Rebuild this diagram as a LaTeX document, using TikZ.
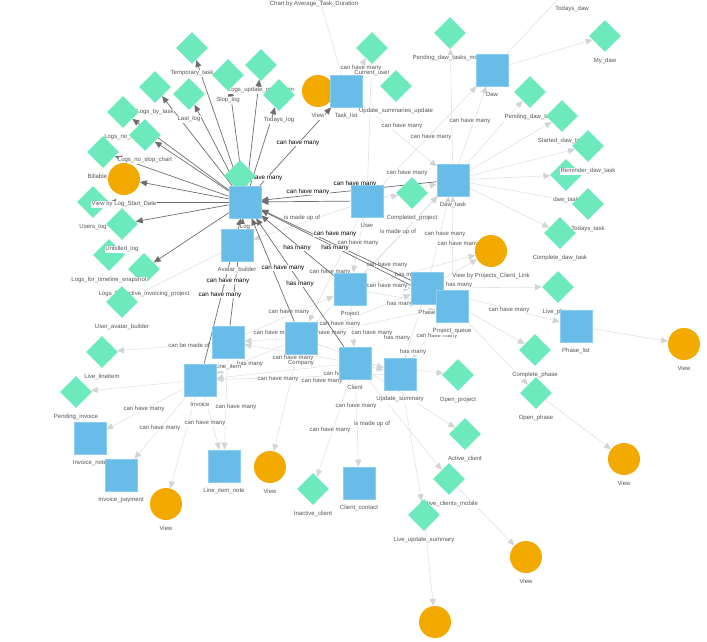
\documentclass[tikz,border=0pt]{standalone}
\usepackage{fontspec}
\setmainfont{Liberation Sans}
\usetikzlibrary{arrows.meta}
\usetikzlibrary{shapes.geometric}
\usetikzlibrary{backgrounds}

\definecolor{sqblue}{RGB}{104,188,232}
\definecolor{dmgreen}{RGB}{109,234,188}
\definecolor{vworange}{RGB}{242,169,0}
\definecolor{ltedge}{RGB}{226,226,226}
\definecolor{lttip}{RGB}{212,212,212}
\definecolor{dkedge}{RGB}{110,110,110}
\definecolor{lbltext}{RGB}{85,85,85}

\tikzset{
  sq/.style={rectangle,fill=sqblue,draw=sqblue!75!white,line width=0.6pt,minimum size=32pt,inner sep=0pt},
  dm/.style={diamond,fill=dmgreen,minimum width=32pt,minimum height=32pt,inner sep=0pt},
  vw/.style={circle,fill=vworange,minimum size=32pt,inner sep=0pt},
  nl/.style={fill=white,inner sep=0.4pt,text=lbltext,text height=4.4pt,text depth=1.4pt,
    font=\fontsize{6}{7}\selectfont,label distance=5.5pt},
  ltline/.style={draw=ltedge,line width=0.6pt,-{Triangle[length=7pt,width=6pt,color=lttip]}},
  dkline/.style={draw=dkedge,line width=0.7pt,-{Triangle[length=7pt,width=6pt]}},
  ltlbl/.style={fill=white,inner sep=0.2pt,text=lbltext,font=\fontsize{6}{7}\selectfont},
  dklbl/.style={fill=white,inner sep=0.2pt,text=black,font=\fontsize{6.3}{7}\selectfont}
}

\begin{document}
\begin{tikzpicture}[x=1pt,y=-1pt]
      \useasboundingbox (0,0) rectangle (707,642);
      \clip (0,0) rectangle (707,642);

      % Diamonds
      \foreach \n/\x/\y/\t in {temptask/192/48/Temporary\_task, logsupd/261/65/Logs\_update\_production,
        sloplog/228/75/Slop\_log, todayslog/279/95/Todays\_log, logsbytask/155/87/Logs\_by\_task,
        lastlog/189/94/Last\_log, logsno/123/112/Logs\_no\_slop, logschart/145/135/Logs\_no\_slop\_chart,
        billable/103/152/Billable\_log, userslog/93/202/Users\_log,
        activeinv/144/269/Logs\_for\_active\_invoicing\_project, timeline/109/255/Logs\_for\_timeline\_snapshot,
        unbilled/122/224/Unbilled\_log, useravatar/122/302/User\_avatar\_builder,
        livelineitem/102/352/Live\_lineitem, pendinv/76/392/Pending\_invoice,
        currentuser/372/48/Current\_user, usumupd/396/86/Update\_summaries\_update,
        pendmobile/450/33/Pending\_daw\_tasks\_mobile, todaysdaw/572/-16/Todays\_daw, mydaw/605/36/My\_daw,
        penddawtask/530/92/Pending\_daw\_task, startdaw/562/116/Started\_daw\_task, xdaw/566/175/daw\_task,
        reminder/588/146/Reminder\_daw\_task, todaystask/588/204/Todays\_task,
        compdawtask/560/233/Complete\_daw\_task, livephase/558/287/Live\_phase,
        compphase/535/350/Complete\_phase, openphase/536/393/Open\_phase,
        compproj/412/193/Completed\_project, openproj/458/375/Open\_project,
        activeclient/465/434/Active\_client, activemobile/449/479/Active\_clients\_mobile,
        liveusum/424/515/Live\_update\_summary, inactive/313/489/Inactive\_client}
      {
        \node[dm,label={[nl]below:\t}] (\n) at (\x,\y) {};
      }
      \node[dm] (logdia) at (240,176) {};

      % Views
      \foreach \n/\x/\y/\t in {vchart/314/-21/Chart by Average\_Task\_Duration, vtask/318/91/View,
        vlog/124/179/View by Log\_Start\_Date, vproj/491/251/View by Projects\_Client\_Link,
        vcomp/270/467/View, vinv/166/504/View, vphase/684/344/View, vopen/624/459/View,
        vlive/526/557/View}
      {
        \node[vw,label={[nl]below:\t}] (\n) at (\x,\y) {};
      }
      \node[vw] (vbot) at (435,622) {};

      % Tables
      \foreach \n/\x/\y/\t in {log/245/202/Log, avatar/237/245/Avatar\_builder, tasklist/346/91/Task\_list,
        daw/492/70/Daw, dawtask/453/180/Daw\_task, user/367/201/User, project/350/289/Project,
        phase/427/288/Phase, pqueue/452/306/Project\_queue, company/301/338/Company,
        client/355/363/Client, usummary/400/374/Update\_summary, lineitem/228/342/Line\_item,
        invoice/200/380/Invoice, invnote/90/438/Invoice\_note, invpay/121/475/Invoice\_payment,
        linote/224/466/Line\_item\_note, ccontact/359/483/Client\_contact, phaselist/576/326/Phase\_list}
      {
        \node[sq,label={[nl]below:\t}] (\n) at (\x,\y) {};
      }

      \begin{pgfonlayer}{background}
      \clip (0,0) rectangle (707,642);

      % Light links
      \foreach \a/\b in {tasklist/vtask, tasklist/vchart, tasklist/currentuser, user/currentuser,
        tasklist/dawtask, user/daw, dawtask/daw, daw/todaysdaw, daw/mydaw, dawtask/pendmobile,
        dawtask/penddawtask, dawtask/startdaw, dawtask/reminder, dawtask/xdaw, dawtask/todaystask,
        dawtask/compdawtask, user/dawtask, user/compproj, project/dawtask, phase/dawtask,
        pqueue/dawtask, company/dawtask, user/project, user/company, user/avatar, project/vproj,
        project/phase, project/pqueue, phase/vproj, phase/livephase, phase/phaselist, phase/compphase,
        pqueue/openphase, phaselist/vphase, openphase/vopen, project/client, lineitem/project,
        company/phase, company/pqueue, phase/usummary, pqueue/usummary, client/usummary,
        company/usummary, client/openproj, client/activeclient, client/activemobile, activemobile/vlive,
        usummary/liveusum, liveusum/vbot, client/ccontact, client/inactive, company/vcomp,
        company/lineitem, company/invoice, client/invoice, client/lineitem, usummary/invoice,
        lineitem/livelineitem, invoice/pendinv, invoice/invnote, invoice/invpay, invoice/vinv,
        invoice/linote, lineitem/linote, avatar/useravatar}
      {
        \draw[ltline] (\a) -- (\b);
      }

      % Light link labels
      \foreach \x/\y/\t [count=\i] in {361/68/can have many, 402/126/can have many, 431/137/can have many,
        470/121/can have many, 407/173/can have many, 302/218/is made up of, 398/232/is made up of,
        445/234/can have many, 458/244/can have many, 358/243/can have many, 330/272/can have many,
        387/265/can have many, 408/275/has many, 387/286/can have many, 400/304/has many,
        459/285/has many, 509/310/can have many, 289/312/can have many, 340/324/can have many,
        274/333/can have many, 326/333/can have many, 372/333/can have many, 397/338/has many,
        437/336/can have many, 413/352/has many, 293/358/can have many, 250/364/has many,
        278/379/can have many, 322/381/can have many, 344/374/can have many, 356/406/can have many,
        330/430/can have many, 372/424/is made up of, 189/345/can be made of, 144/409/can have many,
        160/428/can have many, 205/423/can have many, 236/407/can have many}
      {
        \node[ltlbl] (lt\i) at (\x,\y) {\t};
      }

      % Log links
      \foreach \a/\b in {log/temptask, log/sloplog, log/logsupd, log/todayslog, log/lastlog,
        log/logsbytask, log/logsno, log/logschart, log/billable, log/vlog, log/userslog, log/unbilled,
        log/activeinv, log/tasklist, log/logdia, user/log, dawtask/log, phase/log, pqueue/log,
        project/log, client/log, company/log, lineitem/log, invoice/log}
      {
        \draw[dkline] (\a) -- (\b);
      }

      % Log link labels
      \foreach \x/\y/\t [count=\i] in {298/143/can have many, 355/184/can have many,
        308/192/can have many, 261/178/can have many, 335/234/can have many, 297/248/has many,
        335/248/has many, 300/284/has many, 228/281/can have many, 283/268/can have many,
        220/295/can have many}
      {
        \node[dklbl] (dk\i) at (\x,\y) {\t};
      }
      \end{pgfonlayer}
  \end{tikzpicture}
\end{document}
